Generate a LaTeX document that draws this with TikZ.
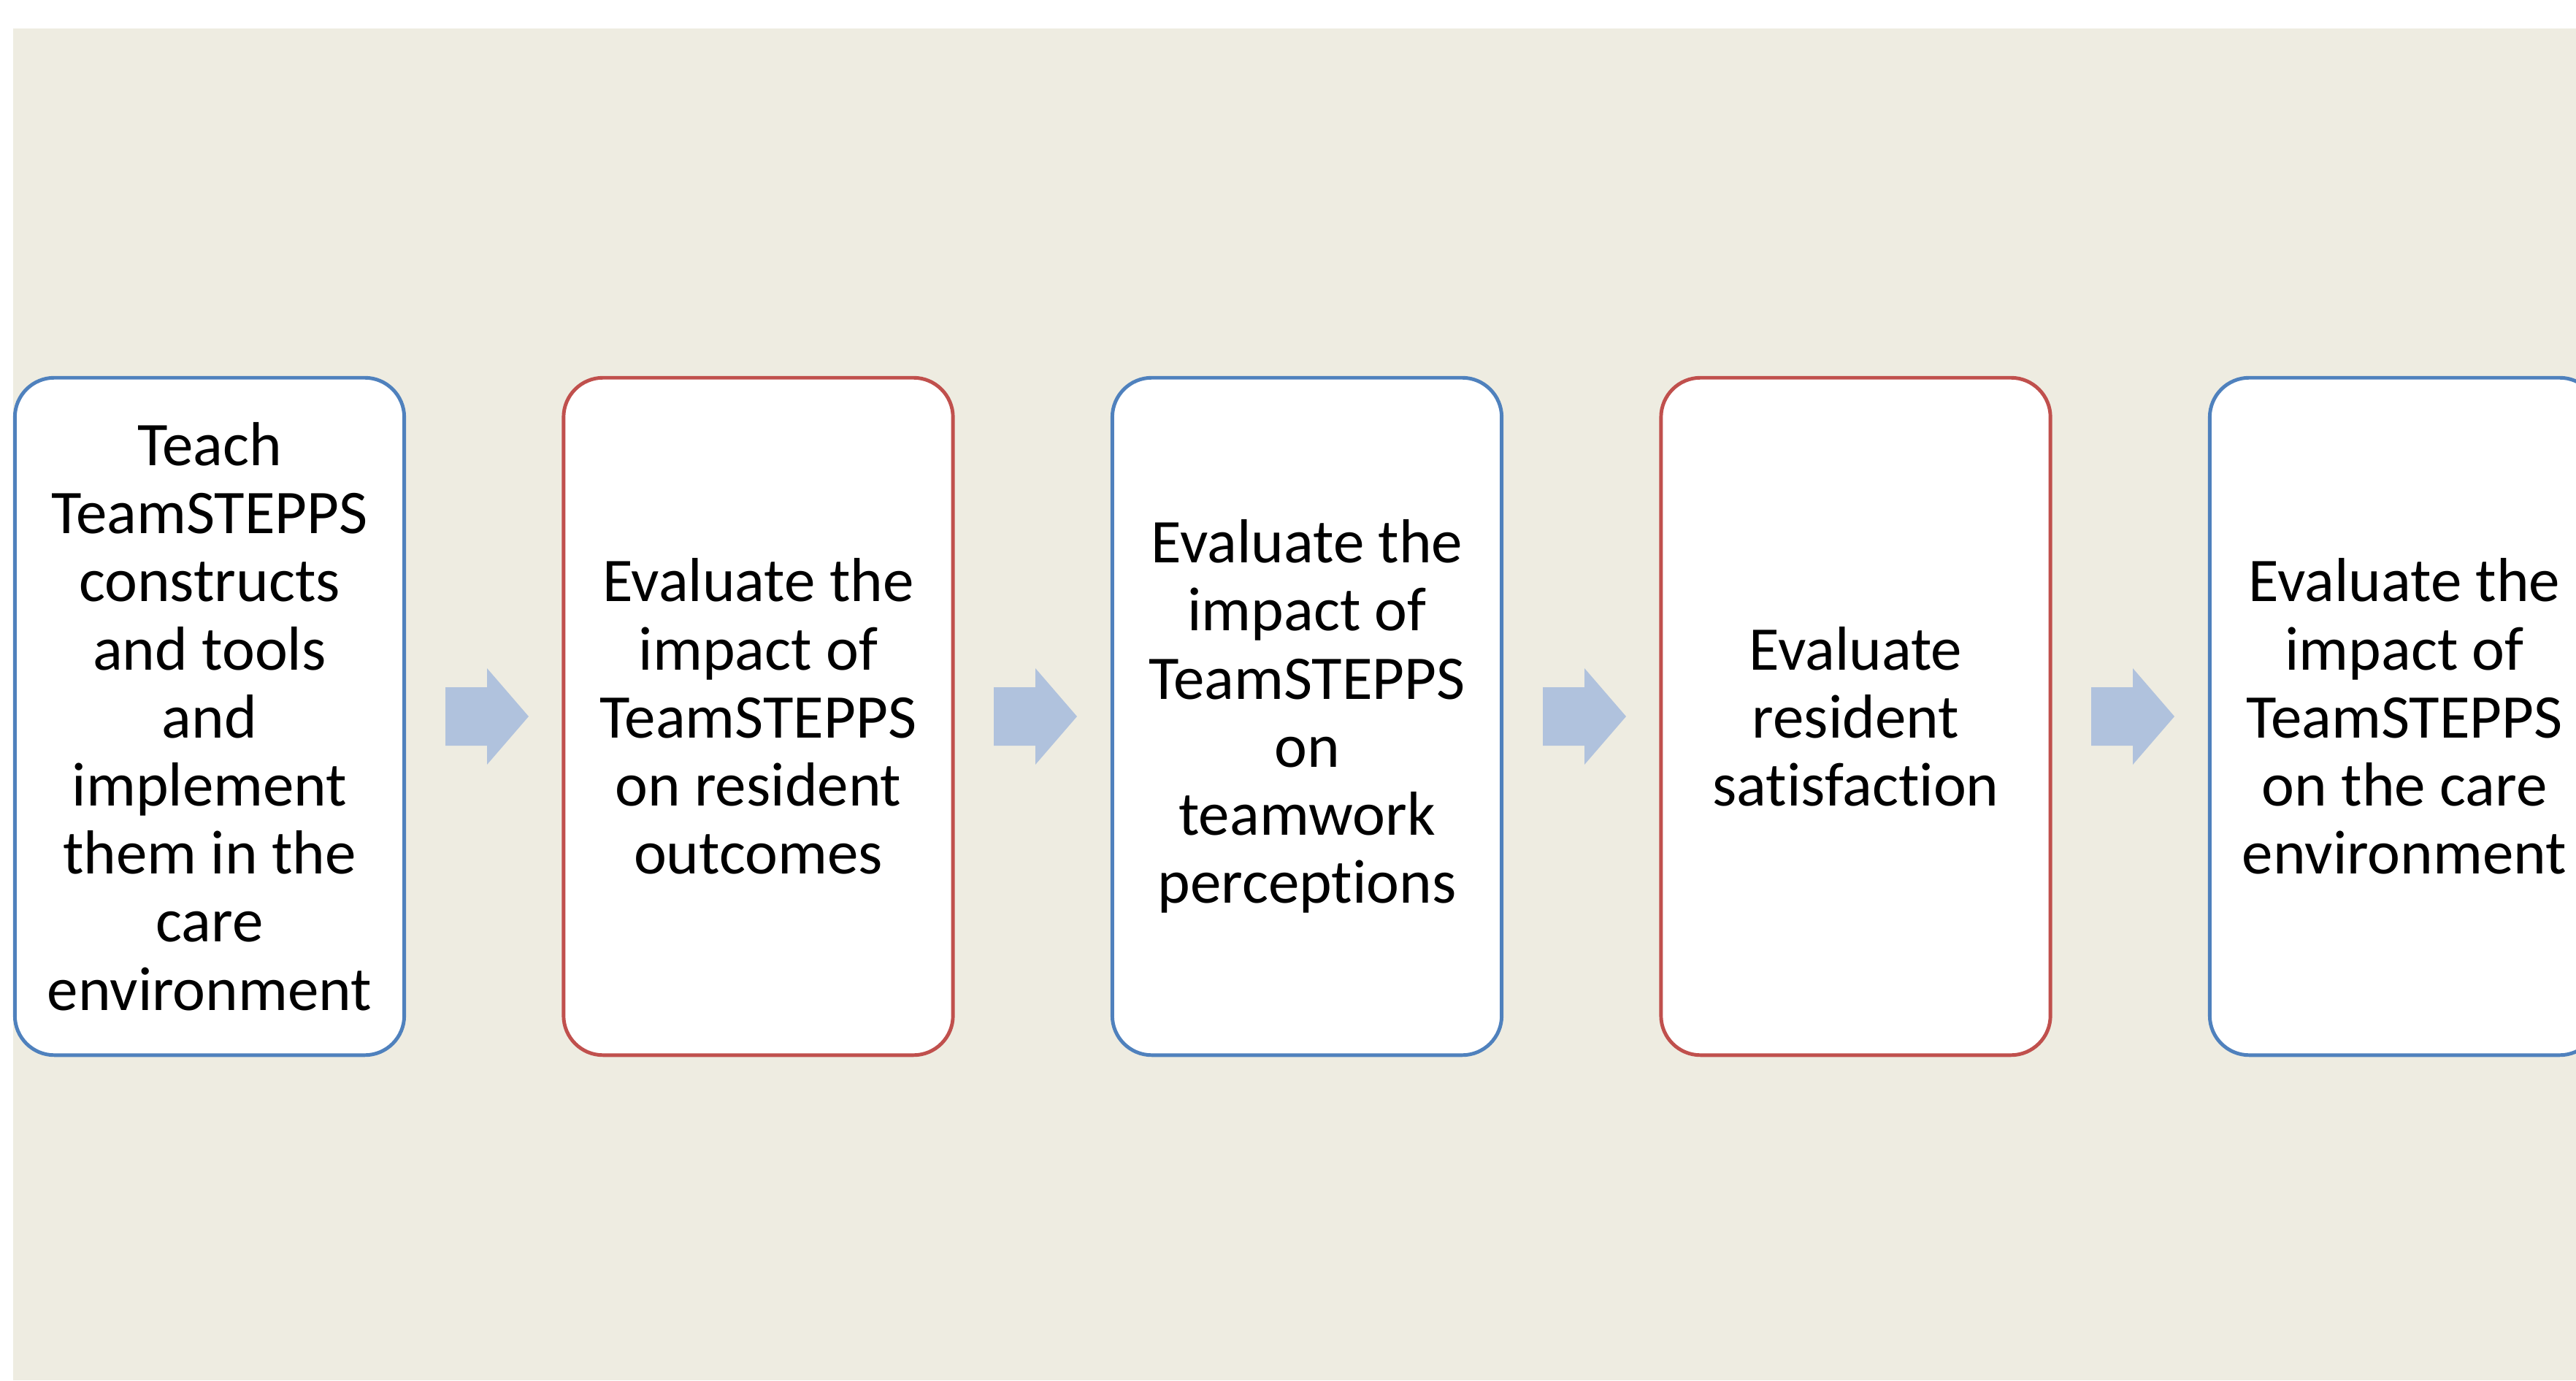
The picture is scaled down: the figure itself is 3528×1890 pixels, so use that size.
\documentclass[tikz,border=0pt]{standalone}
\usepackage{fontspec}
\setmainfont[Ligatures=NoCommon]{Carlito}
\definecolor{bgtan}{HTML}{EEECE1}
\definecolor{boxblue}{HTML}{4F81BD}
\definecolor{boxred}{HTML}{C0504D}
\definecolor{arrowblue}{HTML}{B0C2DD}
\tikzset{
  stagebox/.style={draw, line width=1.4pt, fill=white, rounded corners=0.54cm,
    minimum width=5.33cm, minimum height=9.27cm, align=center, inner sep=0pt,
    font=\fontsize{24.2}{26.5}\selectfont},
  bluebox/.style={stagebox, draw=boxblue},
  redbox/.style={stagebox, draw=boxred},
  barrow/.pic={\fill[arrowblue] (0,-40) -- (57,-40) -- (57,-66) -- (114,0) -- (57,66) -- (57,40) -- (0,40) -- cycle;}
}
\begin{document}
\begin{tikzpicture}[x=0.01cm,y=-0.01cm]
\useasboundingbox (0,0) rectangle (3528,1890);
\clip (0,0) rectangle (3528,1890);
\fill[bgtan] (18,39) rectangle (3528,1890);
\node[bluebox] (b1) at (287,981) {Teach\\TeamSTEPPS\\constructs\\and tools\\and\\implement\\them in the\\care\\environment};
\node[redbox] (b2) at (1038.5,981) {Evaluate the\\impact of\\TeamSTEPPS\\on resident\\outcomes};
\node[bluebox] (b3) at (1790,981) {Evaluate the\\impact of\\TeamSTEPPS\\on\\teamwork\\perceptions};
\node[redbox] (b4) at (2541.5,981) {Evaluate\\resident\\satisfaction};
\node[bluebox] (b5) at (3293,981) {Evaluate the\\impact of\\TeamSTEPPS\\on the care\\environment};
\pic at (610,981) {barrow};
\pic at (1361,981) {barrow};
\pic at (2113,981) {barrow};
\pic at (2864,981) {barrow};
\end{tikzpicture}
\end{document}
